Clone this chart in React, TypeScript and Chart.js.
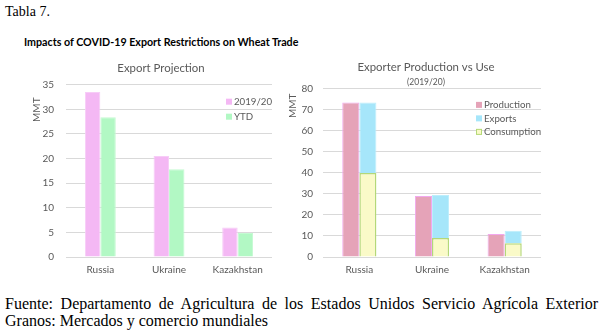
import React, { useEffect, useRef } from "react";
import { Chart, registerables } from "chart.js";

Chart.register(...registerables);

const categories = ["Russia", "Ukraine", "Kazakhstan"];
const projection2019 = [33.5, 20.5, 6];
const ytd = [28.4, 17.8, 4.9];
const production = [73.5, 29, 11];
const exportsVals = [33.5, 20.5, 6];
const consumption = [40, 9, 6.5];
const leftAxis = { max: 35, step: 5 };
const rightAxis = { max: 80, step: 10 };

const FONT = "Lato, 'Open Sans', sans-serif";
const GRAY = "#595959";
const GRID = "#D9D9D9";

const overlayPlugin = {
  id: "overlay",
  afterDraw(chart: any, _args: any, opts: any) {
    const { ctx, chartArea } = chart;
    ctx.save();
    ctx.font = `10px ${FONT}`;
    ctx.fillStyle = GRAY;
    ctx.textAlign = "center";
    ctx.textBaseline = "middle";
    ctx.translate(opts.axisX, chartArea.top + opts.axisDy);
    ctx.rotate(-Math.PI / 2);
    ctx.fillText(opts.axisTitle, 0, 0);
    ctx.restore();

    ctx.save();
    ctx.font = `9.7px ${FONT}`;
    ctx.textBaseline = "middle";
    ctx.textAlign = "left";
    opts.legendOrder.forEach((di: number, i: number) => {
      const ds = chart.data.datasets[di];
      const x = chartArea.right - opts.legendDx;
      const y = chartArea.top + opts.legendDy + i * opts.legendGap;
      ctx.fillStyle = ds.backgroundColor;
      ctx.fillRect(x, y - 3, 6, 6);
      if (ds.legendBorder) {
        ctx.strokeStyle = ds.borderColor;
        ctx.lineWidth = 1;
        ctx.strokeRect(x + 0.5, y - 2.5, 5, 5);
      }
      ctx.fillStyle = GRAY;
      ctx.fillText(ds.label, x + 8, y);
    });
    ctx.restore();
  },
};

function baseOptions(opts: any) {
  return {
    responsive: false,
    animation: false,
    layout: { padding: 0 },
    plugins: {
      legend: { display: false },
      tooltip: { enabled: false },
      title: {
        display: true,
        text: opts.title,
        color: GRAY,
        font: { family: FONT, size: 11.4, weight: "normal" },
        padding: { top: opts.titleTop, bottom: opts.titleBottom },
      },
      subtitle: opts.subtitle
        ? {
            display: true,
            text: opts.subtitle,
            color: GRAY,
            font: { family: FONT, size: 8.5 },
            padding: { top: 3, bottom: opts.subBottom },
          }
        : { display: false },
      overlay: opts.overlay,
    },
    scales: {
      x: {
        stacked: opts.stacked,
        grid: { display: false, drawTicks: false },
        border: { display: false },
        ticks: { color: GRAY, font: { family: FONT, size: 10 }, padding: 7 },
        afterFit: (s: any) => {
          s.height = 28;
        },
      },
      y: {
        stacked: opts.stacked,
        min: 0,
        max: opts.axis.max,
        grid: { color: GRID, drawTicks: false },
        border: { display: false },
        ticks: {
          stepSize: opts.axis.step,
          color: GRAY,
          font: { family: FONT, size: 10 },
          padding: opts.tickPad,
        },
        afterFit: (s: any) => {
          s.width = opts.yWidth;
        },
      },
      spacer: {
        type: "linear",
        position: "right",
        display: true,
        grid: { display: false, drawTicks: false },
        border: { display: false },
        ticks: { display: false },
        afterFit: (s: any) => {
          s.width = opts.padRight;
        },
      },
    },
  };
}

function LeftChart() {
  const ref = useRef<HTMLCanvasElement>(null);
  useEffect(() => {
    const chart = new Chart(ref.current!, {
      type: "bar",
      data: {
        labels: categories,
        datasets: [
          {
            label: "2019/20",
            data: projection2019,
            backgroundColor: "#F4B8F4",
            borderColor: "#F7CCF7",
            borderWidth: 1,
            categoryPercentage: 0.45,
            barPercentage: 1,
          },
          {
            label: "YTD",
            data: ytd,
            backgroundColor: "#B2F8C4",
            borderColor: "#C4FAD2",
            borderWidth: 1,
            categoryPercentage: 0.45,
            barPercentage: 1,
          },
        ],
      } as any,
      options: baseOptions({
        title: "Export Projection",
        titleTop: 6,
        titleBottom: 10,
        padRight: 50,
        stacked: false,
        axis: leftAxis,
        tickPad: 12,
        yWidth: 66,
        overlay: {
          axisTitle: "MMT",
          axisX: 37,
          axisDy: 25,
          legendOrder: [0, 1],
          legendDx: 46,
          legendDy: 17,
          legendGap: 15,
        },
      }) as any,
      plugins: [overlayPlugin as any],
    });
    return () => chart.destroy();
  }, []);
  return <canvas ref={ref} width={322} height={230} style={{ position: "absolute", left: 0, top: 55 }} />;
}

function RightChart() {
  const ref = useRef<HTMLCanvasElement>(null);
  useEffect(() => {
    const chart = new Chart(ref.current!, {
      type: "bar",
      data: {
        labels: categories,
        datasets: [
          {
            label: "Production",
            data: production,
            stack: "p",
            backgroundColor: "#E5A3B8",
            borderColor: "#F2A8EE",
            borderWidth: 1,
            categoryPercentage: 0.47,
            barPercentage: 1,
          },
          {
            label: "Consumption",
            data: consumption,
            stack: "u",
            backgroundColor: "#FAFAC8",
            borderColor: "#B4D878",
            borderWidth: 1.5,
            legendBorder: true,
            categoryPercentage: 0.47,
            barPercentage: 1,
          },
          {
            label: "Exports",
            data: exportsVals,
            stack: "u",
            backgroundColor: "#A6E6FA",
            borderColor: "#BCEEFC",
            borderWidth: 1,
            categoryPercentage: 0.47,
            barPercentage: 1,
          },
        ],
      } as any,
      options: baseOptions({
        title: "Exporter Production vs Use",
        subtitle: "(2019/20)",
        titleTop: 5,
        titleBottom: 0,
        subBottom: 2,
        padRight: 29,
        stacked: true,
        axis: rightAxis,
        tickPad: 10,
        yWidth: 41,
        overlay: {
          axisTitle: "MMT",
          axisX: 11,
          axisDy: 17,
          legendOrder: [0, 2, 1],
          legendDx: 65,
          legendDy: 16,
          legendGap: 13.5,
        },
      }) as any,
      plugins: [overlayPlugin as any],
    });
    return () => chart.destroy();
  }, []);
  return <canvas ref={ref} width={288} height={230} style={{ position: "absolute", left: 282, top: 55 }} />;
}

export default function App() {
  const serif = "'Liberation Serif', 'Times New Roman', serif";
  return (
    <div style={{ position: "absolute", left: 0, top: 0, width: 604, height: 332, background: "#fff", overflow: "hidden" }}>
      <div style={{ position: "absolute", left: 5, top: 4, fontFamily: serif, fontSize: 14, color: "#000", whiteSpace: "nowrap" }}>
        Tabla 7.
      </div>
      <div
        style={{
          position: "absolute",
          left: 24,
          top: 35,
          fontFamily: FONT,
          fontWeight: "bold",
          fontSize: 10.7,
          color: "#000",
          whiteSpace: "nowrap",
        }}
      >
        Impacts of COVID-19 Export Restrictions on Wheat Trade
      </div>
      <LeftChart />
      <RightChart />
      <div
        style={{
          position: "absolute",
          left: 5,
          top: 295,
          width: 593,
          fontFamily: serif,
          fontSize: 16,
          lineHeight: "17px",
          color: "#000",
        }}
      >
        <div style={{ textAlign: "justify", textAlignLast: "justify", whiteSpace: "nowrap" } as any}>
          Fuente: Departamento de Agricultura de los Estados Unidos Servicio Agrícola Exterior
        </div>
        <div>Granos: Mercados y comercio mundiales</div>
      </div>
    </div>
  );
}
